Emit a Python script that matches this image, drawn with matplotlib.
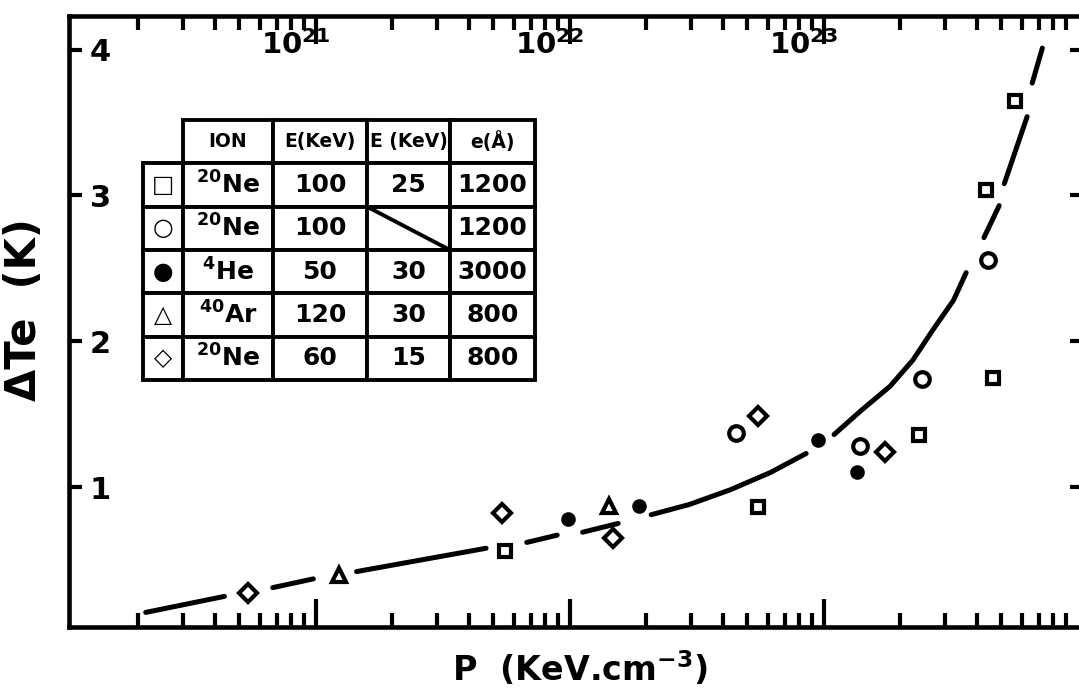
import numpy as np
import matplotlib
matplotlib.use("Agg")
import matplotlib.pyplot as plt
import matplotlib.transforms as mtransforms
from matplotlib.ticker import LogLocator, NullFormatter

plt.rcParams['font.family'] = ['DejaVu Sans']
plt.rcParams['font.weight'] = 'bold'
plt.rcParams['axes.labelweight'] = 'bold'
plt.rcParams['mathtext.default'] = 'bf'

sq_P = [5.55e21, 5.5e22, 2.37e23, 4.62e23, 4.35e23, 5.65e23]
sq_dT = [0.56, 0.86, 1.36, 1.75, 3.04, 3.65]
ci_P = [4.5e22, 1.39e23, 2.43e23, 4.42e23]
ci_dT = [1.37, 1.28, 1.74, 2.56]
he_P = [9.8e21, 1.87e22, 9.5e22, 1.35e23]
he_dT = [0.78, 0.87, 1.32, 1.10]
ar_P = [1.23e21, 1.43e22]
ar_dT = [0.40, 0.87]
di_P = [5.4e20, 5.4e21, 1.48e22, 5.5e22, 1.74e23]
di_dT = [0.27, 0.82, 0.65, 1.49, 1.24]

# hand drawn curve, one list per pen stroke (log10 P, dTe)
curve_logP = [[20.33, 20.64], [20.83, 20.99], [21.16, 21.67], [21.83, 21.95],
              [22.05, 22.19], [22.32, 22.47, 22.63, 22.79, 22.93],
              [23.04, 23.15, 23.26, 23.35, 23.43, 23.51, 23.56],
              [23.63, 23.69], [23.71, 23.80], [23.82, 23.86]]
curve_dT = [[0.14, 0.25], [0.31, 0.37], [0.42, 0.58], [0.62, 0.67],
            [0.69, 0.75], [0.81, 0.88, 0.98, 1.10, 1.23],
            [1.36, 1.53, 1.69, 1.87, 2.08, 2.28, 2.47],
            [2.71, 2.93], [3.08, 3.54], [3.77, 4.01]]

# legend table
symbols = ['□', '○', '●', '△', '◇']
ions = ['$^{20}$Ne', '$^{20}$Ne', '$^{4}$He', '$^{40}$Ar', '$^{20}$Ne']
energy = ['100', '100', '50', '120', '60']
energy2 = ['25', '', '30', '30', '15']
thickness = ['1200', '1200', '3000', '800', '800']
header = ['', 'ION', 'E(KeV)', 'E (KeV)', 'e(Å)']

x_ticks = [1e21, 1e22, 1e23]
x_labels = ['$10^{21}$', '$10^{22}$', '$10^{23}$']
y_ticks = [1, 2, 3, 4]

fig = plt.figure(figsize=(10.79, 6.91), dpi=100)
ax = fig.add_axes([69 / 1079, 64 / 691, 1013 / 1079, 611 / 691])
ax.set_xscale('log')
ax.set_xlim(10 ** 20.028, 10 ** 24.016)
ax.set_ylim(0.04, 4.23)

for lp, dt in zip(curve_logP, curve_dT):
    ax.plot(10 ** np.array(lp), dt, color='black', lw=3.6,
            solid_capstyle='round', solid_joinstyle='round')

mk = dict(ls='none', color='black', mec='black', mew=3)
ax.plot(sq_P, sq_dT, marker='s', ms=9, mfc='white', **mk)
ax.plot(ci_P, ci_dT, marker='o', ms=10.5, mfc='white', **mk)
ax.plot(he_P, he_dT, marker='o', ms=7.5, mfc='black', **mk)
ax.plot(ar_P, ar_dT, marker='^', ms=10, mfc='white', **mk)
ax.plot(di_P, di_dT, marker='D', ms=9, mfc='white', **mk)

# axes frame and ticks
for s in ax.spines.values():
    s.set_linewidth(3.3)

ax.set_xticks(x_ticks, labels=x_labels, fontsize=21)
ax.xaxis.set_minor_locator(LogLocator(base=10, subs=np.arange(2, 10)))
ax.xaxis.set_minor_formatter(NullFormatter())
ax.tick_params(axis='x', which='both', direction='in', top=True, bottom=True,
               labelbottom=False, labeltop=True, width=3)
ax.tick_params(axis='x', which='major', length=20, pad=-32)
ax.tick_params(axis='x', which='minor', length=10)
shift = mtransforms.ScaledTranslation(-0.2, 0, fig.dpi_scale_trans)
for lab in ax.xaxis.get_majorticklabels():
    lab.set_transform(lab.get_transform() + shift)

ax.set_yticks(y_ticks, labels=[str(v) for v in y_ticks], fontsize=22, ha='left')
ax.tick_params(axis='y', direction='in', left=True, right=True, length=9,
               width=3, pad=-15)

ax.set_ylabel('ΔTe  (K)', fontsize=30)
ax.yaxis.set_label_coords(-0.024, 0.52)
ax.set_xlabel('P  (KeV.cm$^{-3}$)', fontsize=24, va='top')
ax.xaxis.set_label_coords(0.504, -0.036)

# table in the upper left corner
rows = [header] + [[s, i, e, e2, t] for s, i, e, e2, t in
                   zip(symbols, ions, energy, energy2, thickness)]
col_w = np.array([40, 90, 94, 83, 85], dtype=float)
col_w = col_w / col_w.sum()
tb_box = [0.073, 0.404, 0.387, 0.426]
tab = ax.table(cellText=rows, cellLoc='center', colWidths=list(col_w), bbox=tb_box)
tab.auto_set_font_size(False)
tab.set_fontsize(18)
for (r, c), cell in tab.get_celld().items():
    cell.set_linewidth(2.8)
    cell.get_text().set_fontweight('bold')
    if r == 0:
        cell.get_text().set_fontsize(13.5)
    if c == 0:
        cell.get_text().set_fontsize(17)
tab[0, 0].visible_edges = 'open'

# diagonal stroke in the empty cell
x_edges = tb_box[0] + tb_box[2] * np.concatenate([[0], np.cumsum(col_w)])
row_h = tb_box[3] / len(rows)
y_top = tb_box[1] + tb_box[3] - 2 * row_h
ax.plot([x_edges[3], x_edges[4]], [y_top, y_top - row_h], color='black',
        lw=2.8, transform=ax.transAxes)

fig.savefig('out.png', dpi=100)
